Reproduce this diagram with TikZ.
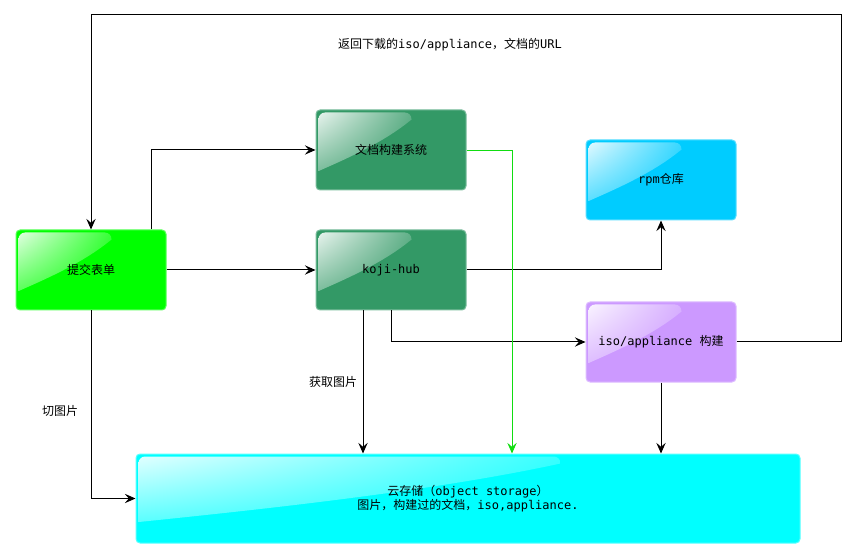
\documentclass[tikz,border=0pt]{standalone}
\usepackage{fontspec}
\setmainfont{DejaVu Sans Mono}
\newfontfamily\cjk{Noto Sans CJK SC}
\usetikzlibrary{arrows.meta,calc,shadings}
\newcommand{\zh}[1]{{\cjk #1}}
\definecolor{formgreen}{HTML}{00FF00}
\definecolor{kojigreen}{HTML}{339966}
\definecolor{rpmblue}{HTML}{00CCFF}
\definecolor{isopurple}{HTML}{CC99FF}
\definecolor{cloudcyan}{HTML}{00FFFF}
\definecolor{docgreen}{HTML}{11DD11}
\tikzset{
  box/.style={draw=white!35!#1, fill=#1, rounded corners=3pt, line width=0.75pt,
    minimum width=112.5pt, minimum height=60pt, inner sep=0pt, align=center},
  flow/.style={-{Stealth[length=8pt,width=7pt,inset=3pt]}, line width=0.75pt},
  lbl/.style={inner sep=0pt}
}
\newcommand{\gloss}[4]{%
  \shade[upper left=white!88!#4, upper right=white!22!#4, lower left=white!35!#4, lower right=white!5!#4]
    ($(#1.north west)+(3,#3*0.77)$) [rounded corners=5] -- ($(#1.north west)+(3,3)$)
    -- ($(#1.north west)+(#2*0.64,3)$) [rounded corners=0] -- ($(#1.north west)+(#2*0.64,10)$)
    .. controls ($(#1.north west)+(#2*0.45,#3*0.42)$) and ($(#1.north west)+(#2*0.2,#3*0.62)$)
    .. ($(#1.north west)+(3,#3*0.77)$) -- cycle;}
\begin{document}
\begin{tikzpicture}[x=0.75pt,y=-0.75pt, font=\fontsize{9pt}{10.5pt}\selectfont]
    \useasboundingbox (0,0) rectangle (856,559);

    \node[box=formgreen] (form) at (91,270) {};
    \node[box=kojigreen] (doc) at (391,150) {};
    \node[box=kojigreen] (koji) at (391,270) {};
    \node[box=rpmblue] (rpm) at (661,180) {};
    \node[box=isopurple] (iso) at (661,342) {};
    \node[box=cloudcyan, minimum width=498pt, minimum height=66.75pt] (cloud) at (468,498.5) {};

    \gloss{form}{150}{80}{formgreen}
    \gloss{doc}{150}{80}{kojigreen}
    \gloss{koji}{150}{80}{kojigreen}
    \gloss{rpm}{150}{80}{rpmblue}
    \gloss{iso}{150}{80}{isopurple}
    \gloss{cloud}{664}{89}{cloudcyan}

    \node[lbl] at (form) {\zh{提交表单}};
    \node[lbl] at (doc) {\zh{文档构建系统}};
    \node[lbl] at (koji) {koji-hub};
    \node[lbl] at (rpm) {rpm\zh{仓库}};
    \node[lbl] at (iso) {iso/appliance \zh{构建}};
    \node[lbl, align=center] at (cloud) {\zh{云存储（}object storage\zh{）}\\\zh{图片，构建过的文档，}iso,appliance.};

    \node[lbl] (retlabel) at (450,45) {\zh{返回下载的}iso/appliance\zh{，文档的}URL};
    \node[lbl] (getpic) at (333,382) {\zh{获取图片}};
    \node[lbl] (cutpic) at (60,411) {\zh{切图片}};

    \coordinate (ret) at (841,15);
    \draw[flow] (iso.east) -| (ret) -| (form.north);
    \draw[flow] ($(form.north)+(60,0)$) |- (doc.west);
    \draw[flow] (form.east) -- (koji.west);
    \draw[flow] (koji.east) -| (rpm.south);
    \draw[flow] (koji.south) |- (iso.west);
    \draw[flow] ($(koji.south)+(-28,0)$) coordinate (k1) -- (k1 |- cloud.north);
    \draw[flow] (iso.south) -- (iso.south |- cloud.north);
    \draw[flow] (form.south) |- (cloud.west);
    \draw[flow, color=docgreen, line width=0.6pt] (doc.east) -| ($(cloud.north)+(44,0)$);
\end{tikzpicture}
\end{document}
